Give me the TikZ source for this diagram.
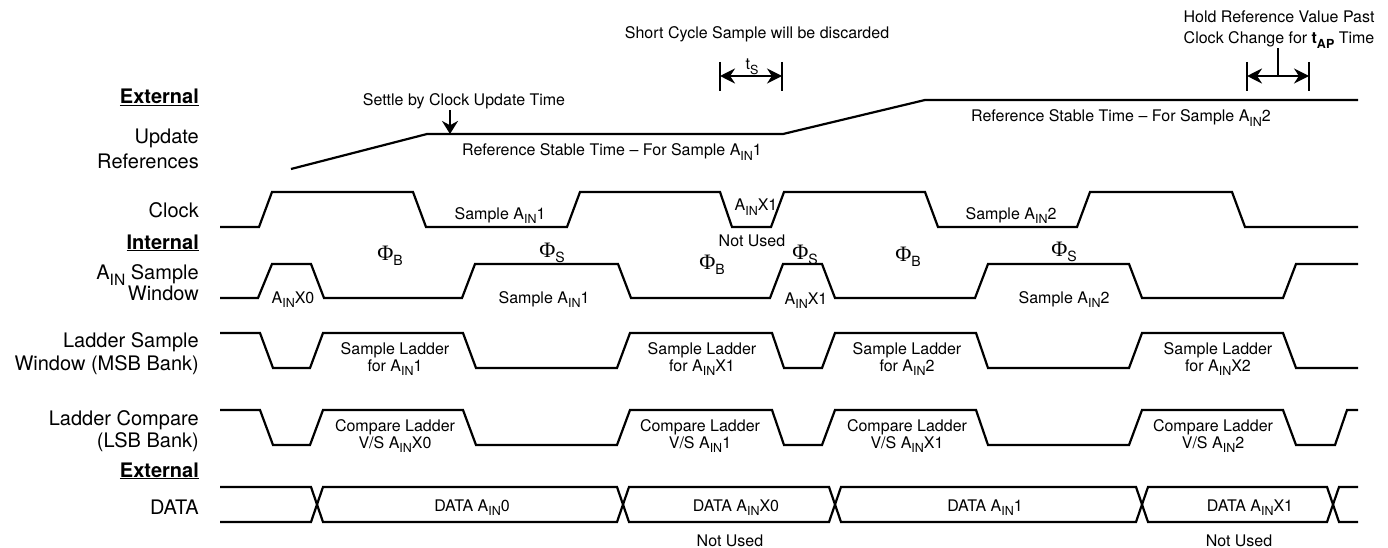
\documentclass[tikz,border=0pt]{standalone}
\usepackage{fontspec}
\setmainfont{TeX Gyre Heros}
\newfontfamily\phifont{Liberation Serif}
\usepackage{graphicx}
\usetikzlibrary{arrows.meta}
\newcommand\sbs[1]{\raisebox{-0.3em}{\scalebox{0.78}{#1}}}
\newcommand\ain{A\sbs{IN}}
\newcommand\phis[1]{{\phifont\fontsize{22}{22}\selectfont Φ}\sbs{#1}}
\tikzset{
  wave/.style={line width=2.2pt, line join=miter},
  lbl/.style={font=\fontsize{20}{24}\selectfont, anchor=base east, inner sep=0pt},
  txt/.style={font=\fontsize{16}{17}\selectfont, anchor=base, inner sep=0pt, align=center},
  phil/.style={font=\fontsize{18}{18}\selectfont, anchor=base, inner sep=0pt},
  barline/.style={line width=2pt},
  darr/.style={line width=2pt, {Stealth[length=15pt,width=15pt]}-{Stealth[length=15pt,width=15pt]}},
  sarr/.style={line width=2pt, -{Stealth[length=13pt,width=16pt]}}
}
\begin{document}
\begin{tikzpicture}[x=1pt,y=-1pt]
\useasboundingbox[fill=white] (0,0) rectangle (1388,548);

% left labels
\node[lbl] (ext1) at (199,104) {\underline{\textbf{External}}};
\node[lbl] (upd1) at (199,144) {Update};
\node[lbl] (upd2) at (199,168) {References};
\node[lbl] (clk) at (199,217) {Clock};
\node[lbl] (int) at (199,249) {\underline{\textbf{Internal}}};
\node[lbl] (ainA) at (199,279) {\ain\ Sample};
\node[lbl] (ainB) at (199,300) {Window};
\node[lbl] (lsA) at (199,347) {Ladder Sample};
\node[lbl] (lsB) at (199,370) {Window (MSB Bank)};
\node[lbl] (lcA) at (199,425) {Ladder Compare};
\node[lbl] (lcB) at (199,447) {(LSB Bank)};
\node[lbl] (ext2) at (199,477) {\underline{\textbf{External}}};
\node[lbl] (data) at (199,514) {DATA};

% update references
\draw[wave] (291,169) -- (427,134) -- (783,134) -- (925,100) -- (1358,100);
\node[txt] (settle) at (464,106) {Settle by Clock Update Time};
\coordinate (settleS) at (450,110);
\coordinate (settleT) at (450,134);
\draw[sarr] (settleS) -- (settleT);
\node[txt] (ref1) at (612,156) {Reference Stable Time – For Sample \ain 1};
\node[txt] (ref2) at (1121,122) {Reference Stable Time – For Sample \ain 2};

% short cycle / ts
\node[txt] (short) at (757,39) {Short Cycle Sample will be discarded};
\node[txt] (ts) at (752,70) {t\sbs{S}};
\draw[barline] (720,62) -- (720,91);
\draw[barline] (782,62) -- (782,91);
\coordinate (tsL) at (720,76);
\coordinate (tsR) at (782,76);
\draw[darr] (tsL) -- (tsR);

% hold reference
\node[txt, font=\fontsize{16}{21}\selectfont] (hold) at (1279,44) {Hold Reference Value Past\\Clock Change for \textbf{t\sbs{AP}} Time};
\draw[barline] (1247,62) -- (1247,91);
\draw[barline] (1309,62) -- (1309,91);
\coordinate (hL) at (1247,76);
\coordinate (hR) at (1309,76);
\coordinate (hM) at (1278,76);
\coordinate (hTop) at (1278,48);
\draw[darr] (hL) -- (hR);
\draw[barline] (hM) -- (hTop);

% clock
\draw[wave] (220,227) -- (259,227) -- (272,192) -- (413,192) -- (426,227) -- (567,227) -- (580,192) -- (720,192) -- (732,227) -- (771,227) -- (784,192) -- (925,192) -- (938,227) -- (1077,227) -- (1090,192) -- (1232,192) -- (1245,227) -- (1358,227);
\node[txt] (cs1) at (500,219) {Sample \ain 1};
\node[txt] (cx1) at (756,211) {\ain X1};
\node[txt] (cnu) at (752,246) {Not Used};
\node[txt] (cs2) at (1011,219) {Sample \ain 2};

% phases
\node[phil] (p1) at (390,260) {\phis{B}};
\node[phil] (p2) at (552,257) {\phis{S}};
\node[phil] (p3) at (712,269) {\phis{B}};
\node[phil] (p4) at (805,259) {\phis{S}};
\node[phil] (p5) at (908,261) {\phis{B}};
\node[phil] (p6) at (1064,256) {\phis{S}};

% AIN sample window
\draw[wave] (220,298) -- (258,298) -- (272,264) -- (311,264) -- (324,298) -- (462,298) -- (475,264) -- (618,264) -- (631,298) -- (770,298) -- (783,264) -- (822,264) -- (835,298) -- (975,298) -- (988,264) -- (1129,264) -- (1142,298) -- (1283,298) -- (1296,264) -- (1358,264);
\node[txt] (ax0) at (293,303) {\ain X0};
\node[txt] (as1) at (544,303) {Sample \ain 1};
\node[txt] (ax1) at (806,304) {\ain X1};
\node[txt] (as2) at (1064,303) {Sample \ain 2};

% ladder sample window
\draw[wave] (220,333) -- (260,333) -- (273,368) -- (310,368) -- (323,333) -- (463,333) -- (476,368) -- (617,368) -- (630,333) -- (772,333) -- (784,368) -- (822,368) -- (835,333) -- (976,333) -- (988,368) -- (1129,368) -- (1142,333) -- (1283,333) -- (1296,368) -- (1358,368);
\node[txt] (ls1) at (395,371) {Sample Ladder\\for \ain 1};
\node[txt] (ls2) at (702,371) {Sample Ladder\\for \ain X1};
\node[txt] (ls3) at (907,371) {Sample Ladder\\for \ain 2};
\node[txt] (ls4) at (1218,371) {Sample Ladder\\for \ain X2};

% ladder compare
\draw[wave] (220,410) -- (260,410) -- (273,445) -- (310,445) -- (323,410) -- (463,410) -- (476,445) -- (617,445) -- (630,410) -- (772,410) -- (784,445) -- (822,445) -- (835,410) -- (976,410) -- (988,445) -- (1129,445) -- (1142,410) -- (1283,410) -- (1296,445) -- (1335,445) -- (1347,410) -- (1358,410);
\node[txt] (lc1) at (395,448) {Compare Ladder\\V/S \ain X0};
\node[txt] (lc2) at (700,448) {Compare Ladder\\V/S \ain 1};
\node[txt] (lc3) at (907,448) {Compare Ladder\\V/S \ain X1};
\node[txt] (lc4) at (1213,448) {Compare Ladder\\V/S \ain 2};

% data bus
\draw[wave] (220,487) -- (311,487) -- (323,522) -- (617,522) -- (629,487) -- (829,487) -- (841,522) -- (1136,522) -- (1148,487) -- (1327,487) -- (1339,522) -- (1358,522);
\draw[wave] (220,522) -- (311,522) -- (323,487) -- (617,487) -- (629,522) -- (829,522) -- (841,487) -- (1136,487) -- (1148,522) -- (1327,522) -- (1339,487) -- (1358,487);
\node[txt] (d0) at (472,511) {DATA \ain 0};
\node[txt] (d1) at (736,511) {DATA \ain X0};
\node[txt] (d2) at (985,511) {DATA \ain 1};
\node[txt] (d3) at (1250,511) {DATA \ain X1};
\node[txt] (nu1) at (730,546) {Not Used};
\node[txt] (nu2) at (1239,546) {Not Used};
\end{tikzpicture}
\end{document}
